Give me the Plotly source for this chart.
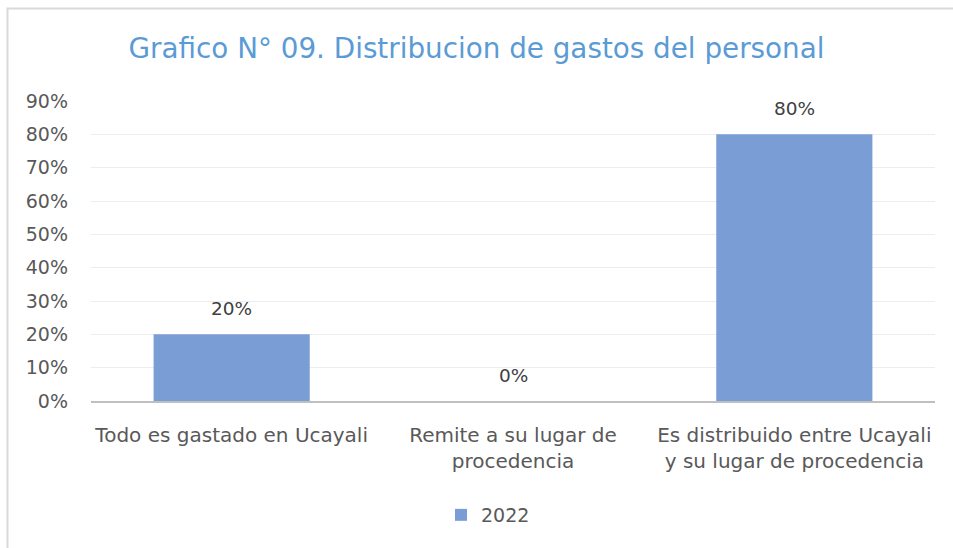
import plotly.graph_objects as go

categories = ["Todo es gastado en Ucayali", "Remite a su lugar de<br>procedencia",
              "Es distribuido entre Ucayali<br>y su lugar de procedencia"]
values = [0.20, 0.00, 0.80]
labels = ["20%", "0%", "80%"]
series_name = "2022"
tick_vals = [0, 0.1, 0.2, 0.3, 0.4, 0.5, 0.6, 0.7, 0.8, 0.9]

FONT = "DejaVu Sans"
PH = 300.0  # plot height in px (for shape placement)
PW = 844.0

fig = go.Figure()
fig.add_trace(go.Bar(
    x=categories, y=values, name=series_name,
    marker=dict(color="#7B9DD6", line=dict(width=0)),
    width=0.555,
))
for c, v, t in zip(categories, values, labels):
    fig.add_annotation(x=c, y=v, text=t, showarrow=False, yanchor="middle", yshift=26,
                       font=dict(family=FONT, size=18.5, color="#404040"))
fig.update_layout(
    width=953, height=548,
    margin=dict(l=91, r=18, t=101, b=147),
    paper_bgcolor="white", plot_bgcolor="white",
    title=dict(text="Grafico N° 09. Distribucion de gastos del personal",
               x=0.5, xanchor="center", y=1 - 48 / 548, yanchor="middle",
               font=dict(family=FONT, size=27.8, color="#5B9BD5")),
    showlegend=True,
    legend=dict(orientation="h", x=(488 - 91) / PW, xanchor="center",
                y=(401 - 515) / PH, yanchor="middle",
                font=dict(family=FONT, size=19, color="#595959")),
)
fig.update_yaxes(range=[0, 0.9], tickvals=tick_vals, tickformat=".0%",
                 tickfont=dict(family=FONT, size=19, color="#595959"),
                 gridcolor="#EDEDED", gridwidth=1, zeroline=False, showline=False,
                 ticks="", ticklabelstandoff=22)
fig.update_xaxes(tickfont=dict(family=FONT, size=20, color="#595959"),
                 showline=True, linecolor="#BFBFBF", linewidth=2, ticks="",
                 ticklabelstandoff=15)
fig.add_shape(type="rect", xref="paper", yref="paper",
              x0=(7.5 - 91) / PW, x1=1.1, y0=-2, y1=(401 - 8.5) / PH,
              line=dict(color="#D9D9D9", width=2), fillcolor="rgba(0,0,0,0)", layer="below")
fig.write_html("out.html", config={"displayModeBar": False},
               post_script="document.body.style.margin='0';document.body.style.overflow='hidden';")
